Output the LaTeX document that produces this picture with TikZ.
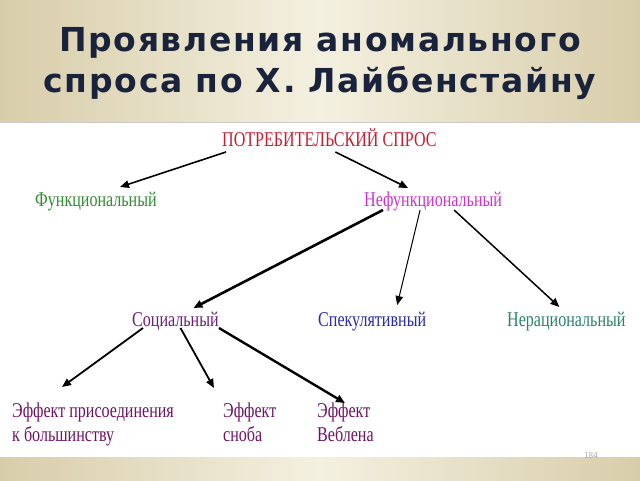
\documentclass[tikz,border=0pt]{standalone}
\usepackage{fontspec}
\setmainfont{Liberation Serif}
\newfontfamily\titlefont[LetterSpace=5]{DejaVu Sans}
\usetikzlibrary{arrows.meta}

\definecolor{beigeD}{RGB}{216,205,170}
\definecolor{beigeL}{RGB}{244,240,224}
\definecolor{titleblue}{RGB}{25,35,60}
\definecolor{rootred}{RGB}{200,30,50}
\definecolor{funcgreen}{RGB}{50,140,50}
\definecolor{nefmag}{RGB}{204,51,204}
\definecolor{socpurple}{RGB}{110,30,120}
\definecolor{specblue}{RGB}{40,40,170}
\definecolor{nerteal}{RGB}{40,130,110}
\definecolor{effpurple}{RGB}{110,20,100}

\newcommand{\cnd}[1]{\scalebox{0.765}[1]{#1}}

\tikzset{
  lbl/.style={inner sep=0pt, font=\fontsize{21}{24}\selectfont},
  arr/.style={-{Triangle[length=9pt,width=7.5pt]}, line width=1.6pt},
}

\begin{document}
\begin{tikzpicture}[x=1pt,y=-1pt]%Спрос по Лайбенстайну
        \useasboundingbox (0,0) rectangle (640,480);
        \shade[left color=beigeD, right color=beigeD, middle color=beigeL] (0,0) rectangle (640,122);
        \shade[left color=beigeD, right color=beigeD, middle color=beigeL] (0,457) rectangle (640,480);
        \draw[gray!40, line width=1pt] (0,122) -- (640,122);

        \node[inner sep=0pt, anchor=north, align=center, text=titleblue,
              font=\titlefont\bfseries\fontsize{33}{41}\selectfont] (ttl) at (320,27)
              {Проявления аномального\\спроса по Х. Лайбенстайну};

        \node[lbl, anchor=base west, text=rootred] (root) at (222,146) {\cnd{ПОТРЕБИТЕЛЬСКИЙ СПРОС}};

        \node[lbl, anchor=base west, text=funcgreen] (func) at (35,206) {\cnd{Функциональный}};
        \node[lbl, anchor=base west, text=nefmag] (nef) at (364,206) {\cnd{Нефункциональный}};

        \node[lbl, anchor=base west, text=socpurple] (soc) at (132,326) {\cnd{Социальный}};
        \node[lbl, anchor=base west, text=specblue] (spec) at (318,326) {\cnd{Спекулятивный}};
        \node[lbl, anchor=base west, text=nerteal] (nerac) at (507,326) {\cnd{Нерациональный}};

        \node[lbl, anchor=north west, align=left, text=effpurple] (join) at (12,403)
              {\cnd{Эффект присоединения}\\\cnd{к большинству}};
        \node[lbl, anchor=north west, align=left, text=effpurple] (snob) at (223,403)
              {\cnd{Эффект}\\\cnd{сноба}};
        \node[lbl, anchor=north west, align=left, text=effpurple] (vebl) at (317,403)
              {\cnd{Эффект}\\\cnd{Веблена}};

        \draw[arr] ([xshift=4pt,yshift=-6pt]root.base west) -- ([xshift=24pt,yshift=19pt]func.base);
        \draw[arr] ([xshift=6pt,yshift=-6pt]root.base) -- ([xshift=-25pt,yshift=18pt]nef.base);

        \draw[arr, line width=2.6pt] ([xshift=19pt,yshift=-4pt]nef.base west) -- ([xshift=18pt,yshift=18pt]soc.base);
        \draw[arr, line width=1pt] ([xshift=-13pt,yshift=-4pt]nef.base) -- ([xshift=25pt,yshift=21pt]spec.base);
        \draw[arr, line width=1.5pt] ([xshift=21pt,yshift=-4pt]nef.base) -- ([xshift=-7pt,yshift=19pt]nerac.base);

        \draw[arr, line width=1.8pt] ([xshift=11pt,yshift=-2pt]soc.base west) -- ([xshift=50pt,yshift=16pt]join.north west);
        \draw[arr, line width=1.8pt] ([xshift=5pt,yshift=-2pt]soc.base) -- ([xshift=-9pt,yshift=15pt]snob.north west);
        \draw[arr, line width=2.4pt] ([yshift=-2pt]soc.base east) -- ([xshift=28pt]vebl.north west);

        \node[inner sep=0pt, text=gray!70, font=\sffamily\fontsize{9}{9}\selectfont] (pg) at (591,456) {184};
    \end{tikzpicture}
\end{document}
